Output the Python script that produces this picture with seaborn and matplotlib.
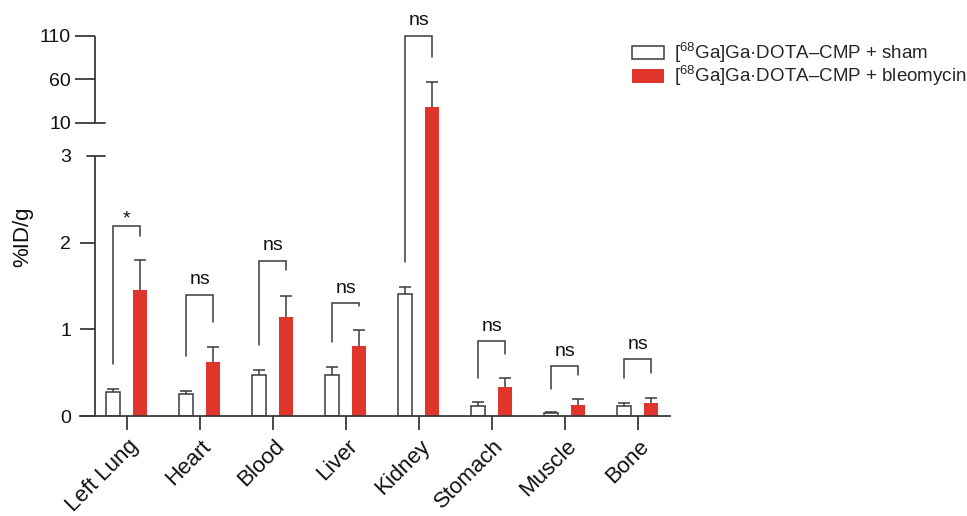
import numpy as np
import pandas as pd
import matplotlib
matplotlib.use("Agg")
import matplotlib.pyplot as plt
import matplotlib.transforms as mtransforms
import seaborn as sns

# ---- data -------------------------------------------------------------
organs = ["Left Lung", "Heart", "Blood", "Liver", "Kidney", "Stomach", "Muscle", "Bone"]
groups = [r"[$^{68}$Ga]Ga·DOTA–CMP + sham", r"[$^{68}$Ga]Ga·DOTA–CMP + bleomycin"]

sham_mean = [0.28, 0.26, 0.47, 0.47, 1.41, 0.12, 0.035, 0.12]
sham_sd = [0.04, 0.03, 0.06, 0.10, 0.08, 0.05, 0.015, 0.037]
bleo_mean = [1.45, 0.62, 1.14, 0.81, 28.4, 0.34, 0.13, 0.15]
bleo_sd = [0.35, 0.18, 0.25, 0.18, 28.6, 0.10, 0.07, 0.06]

# significance brackets: (left foot, top, right foot, label)
bracket_left = [0.60, 0.69, 0.82, 0.86, 1.78, 0.445, 0.32, 0.445]
bracket_top = [2.19, 1.40, 1.79, 1.30, 110, 0.864, 0.576, 0.656]
bracket_right = [2.08, 1.09, 1.69, 1.27, 85, 0.72, 0.47, 0.495]
bracket_text = ["*", "ns", "ns", "ns", "ns", "ns", "ns", "ns"]

lower_ticks = [0, 1, 2, 3]
upper_ticks = [10, 60, 110]

RED = "#E0352A"
INK = "#3a3a3a"

# ---- style ------------------------------------------------------------
sns.set_style("ticks")
plt.rcParams["font.family"] = ["Liberation Sans", "DejaVu Sans"]
plt.rcParams["mathtext.fontset"] = "custom"
plt.rcParams["mathtext.rm"] = "Liberation Sans"
plt.rcParams["mathtext.default"] = "regular"

df = pd.DataFrame({
    "organ": organs * 2,
    "group": [groups[0]] * len(organs) + [groups[1]] * len(organs),
    "value": sham_mean + bleo_mean,
})

# broken y axis: 0-3 linear, short gap, then 10-110 compressed 100x
GAP = 0.384


def fwd(v):
    v = np.asarray(v, dtype=float)
    return np.where(v <= 3, v,
                    np.where(v < 10, 3 + (v - 3) / 7 * GAP, 3 + GAP + (v - 10) * 0.01))


def inv(t):
    t = np.asarray(t, dtype=float)
    return np.where(t <= 3, t,
                    np.where(t < 3 + GAP, 3 + (t - 3) / GAP * 7, 10 + (t - 3 - GAP) / 0.01))


fig = plt.figure(figsize=(9.67, 5.16), dpi=100)
W, H = 967, 516
ax = fig.add_axes([80 / W, (H - 416.3) / H, 590 / W, 411.3 / H])
ax.set_yscale("function", functions=(fwd, inv))

sns.barplot(data=df, x="organ", y="value", hue="group",
            palette={groups[0]: "white", groups[1]: RED}, saturation=1,
            width=0.74, gap=0.49, errorbar=None, ax=ax, legend=False)

ax.set_xlim(-0.64, 7.442)
ax.set_ylim(0, 145.4)

sham_bars, bleo_bars = ax.containers[0], ax.containers[1]
for p in sham_bars:
    p.set_edgecolor(INK)
    p.set_linewidth(1.1)
for p in bleo_bars:
    p.set_edgecolor(RED)
    p.set_linewidth(0)

# upper-only SD error bars
for bars, mean, sd in [(sham_bars, sham_mean, sham_sd), (bleo_bars, bleo_mean, bleo_sd)]:
    xs = [p.get_x() + p.get_width() / 2 for p in bars]
    eb = ax.errorbar(xs, mean, yerr=[np.zeros(len(sd)), sd], fmt="none",
                     ecolor=INK, elinewidth=1.1, capsize=4, capthick=1.1, zorder=3)
    eb[1][0].set_visible(False)  # no cap at the bar top

# significance brackets
xl = [p.get_x() + p.get_width() / 2 for p in sham_bars]
xr = [p.get_x() + p.get_width() / 2 for p in bleo_bars]
for i in range(len(organs)):
    ax.plot([xl[i], xl[i], xr[i], xr[i]],
            [bracket_left[i], bracket_top[i], bracket_top[i], bracket_right[i]],
            color=INK, lw=1.1, solid_joinstyle="miter", zorder=3, clip_on=False)
    off = 5 if bracket_text[i] == "*" else 11
    ax.annotate(bracket_text[i], xy=((xl[i] + xr[i]) / 2, bracket_top[i]),
                xytext=(0, off), textcoords="offset points",
                ha="center", va="center", fontsize=14, color="#111111")

# axes and ticks
sns.despine(ax=ax)
ax.spines["bottom"].set_color(INK)
ax.spines["bottom"].set_linewidth(1.3)
axis_x = 15 / 590  # y axis sits right of the x axis start
ax.spines["left"].set_position(("axes", axis_x))
ax.spines["left"].set_visible(False)

ax.set_yticks(lower_ticks)
ax.set_yticklabels([str(t) for t in lower_ticks])
ax.set_yticks(upper_ticks, minor=True)
ax.set_yticklabels([str(t) for t in upper_ticks], minor=True)
ax.tick_params(axis="y", which="major", length=10.8, width=1.3, color=INK,
               pad=6.5, labelsize=14, labelcolor="#111111")
ax.tick_params(axis="y", which="minor", length=14.4, width=1.3, color=INK,
               pad=2.9, labelsize=14, labelcolor="#111111")
ax.yaxis.get_major_ticks()[3].tick1line.set_visible(False)

ax.tick_params(axis="x", length=10, width=1.3, color=INK, pad=4,
               labelsize=16, labelcolor="#111111")
shift = mtransforms.ScaledTranslation(1 / 100, 0, fig.dpi_scale_trans)
for lab in ax.get_xticklabels():
    lab.set_rotation(45)
    lab.set_ha("right")
    lab.set_va("top")
    lab.set_rotation_mode("anchor")
    lab.set_transform(lab.get_transform() + shift)

ax.set_xlabel("")
ax.set_ylabel("")

# broken y axis segments with end caps
tr = ax.get_yaxis_transform()
cap = 10 / 590
ax.plot([axis_x, axis_x], [0, 3], transform=tr, color=INK, lw=1.3, clip_on=False,
        solid_capstyle="butt")
ax.plot([axis_x, axis_x], [10, 110], transform=tr, color=INK, lw=1.3, clip_on=False,
        solid_capstyle="butt")
ax.plot([axis_x - 8.5 / 590, axis_x + cap], [3, 3], transform=tr, color=INK, lw=1.3,
        clip_on=False)
ax.plot([axis_x, axis_x + cap], [10, 10], transform=tr, color=INK, lw=1.3, clip_on=False)

fig.text(23 / W, 1 - 236.7 / H, "%ID/g", rotation=90, ha="center", va="center",
         fontsize=16, color="#111111")

ax.legend([sham_bars, bleo_bars], groups, loc="upper left",
          bbox_to_anchor=(632 / W, 1 - 41 / H), bbox_transform=fig.transFigure,
          frameon=False, fontsize=13.5, handlelength=1.7, handleheight=0.75,
          handletextpad=0.55, labelspacing=-0.04, borderpad=0, borderaxespad=0)

fig.savefig("out.png", dpi=100)
